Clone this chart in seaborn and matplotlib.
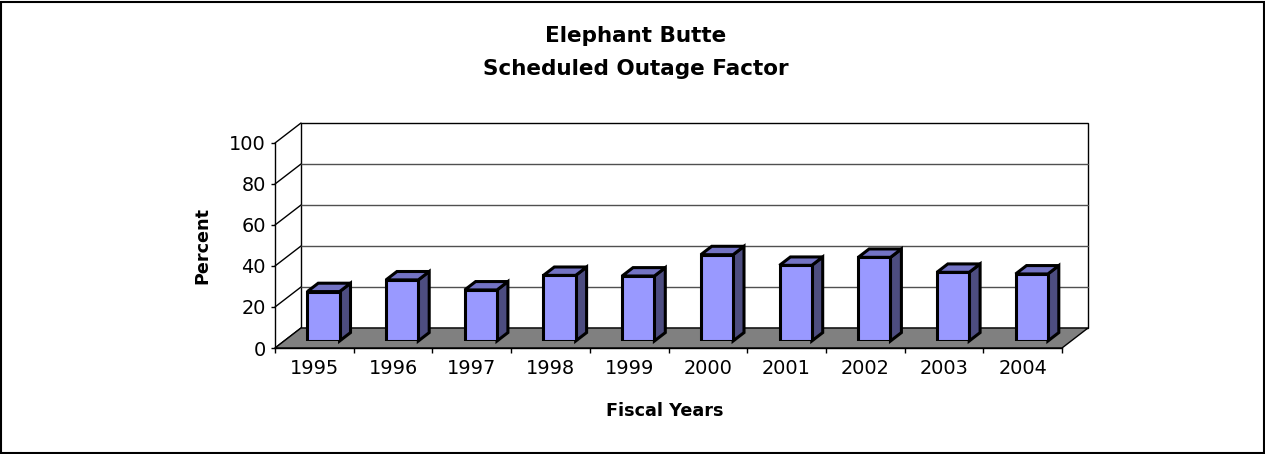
import pandas as pd
import matplotlib.pyplot as plt
from matplotlib.patches import Polygon, Rectangle
import seaborn as sns

years = ['1995', '1996', '1997', '1998', '1999', '2000', '2001', '2002', '2003', '2004']
outage = [24.1, 29.8, 24.9, 32.0, 31.7, 42.1, 36.9, 40.8, 33.5, 32.7]
y_ticks = [0, 20, 40, 60, 80, 100]

title_lines = ['Elephant Butte', 'Scheduled Outage Factor']
x_label = 'Fiscal Years'
y_label = 'Percent'

W, H = 1265, 454
sns.set_style('white')
plt.rcParams['font.family'] = ['DejaVu Sans']
plt.rcParams['text.color'] = 'black'
plt.rcParams['xtick.color'] = 'black'
plt.rcParams['ytick.color'] = 'black'

fig = plt.figure(figsize=(W / 100, H / 100), dpi=100)

# front plane of the fake 3d box (pixels)
left, right, bottom, top = 275, 1062, 348, 143
depth_px = (26, 20)
n = len(years)
ppx = (right - left) / n      # px per category
ppy = (bottom - top) / 100    # px per percent
DX = depth_px[0] / ppx
DY = depth_px[1] / ppy

ax = fig.add_axes([left / W, 1 - bottom / H, (right - left) / W, (bottom - top) / H])
ax.set_facecolor('none')
ax.set_xlim(-0.5, n - 0.5)
ax.set_ylim(0, 100)
x0, x1 = -0.5, n - 0.5

# back wall, floor, left wall lines
ax.add_patch(Rectangle((x0 + DX, DY), n, 100, fc='white', ec='black', lw=1, clip_on=False, zorder=0))
for t in y_ticks[1:-1]:
    ax.plot([x0 + DX, x1 + DX], [t + DY, t + DY], color='#505050', lw=1, clip_on=False, zorder=1)
for t in y_ticks:
    ax.plot([x0, x0 + DX], [t, t + DY], color='black', lw=1, clip_on=False, zorder=1)
ax.add_patch(Polygon([(x0, 0), (x1, 0), (x1 + DX, DY), (x0 + DX, DY)], fc='#808080', ec='black',
                     lw=1, clip_on=False, zorder=1))

ax.set_yticks(y_ticks)
ax.set_xticks(range(n), labels=years)
ax.set_xticks([i - 0.5 for i in range(n + 1)], minor=True)
ax.tick_params(axis='y', length=3, width=1, pad=3.5, labelsize=13.9, direction='out', left=True)
ax.tick_params(axis='x', which='major', length=0, pad=8, labelsize=13.9)
ax.tick_params(axis='x', which='minor', length=3.5, width=1, direction='out', bottom=True)
for s in ['top', 'right']:
    ax.spines[s].set_visible(False)
for s in ['left', 'bottom']:
    ax.spines[s].set_color('black')
    ax.spines[s].set_linewidth(1)
    ax.spines[s].set_zorder(2)

# bars sit part way into the box
f = 0.35
axb = fig.add_axes([(left + f * depth_px[0]) / W, 1 - (bottom - f * depth_px[1]) / H,
                    (right - left) / W, (bottom - top) / H])
df = pd.DataFrame({'year': years, 'outage': outage})
sns.barplot(data=df, x='year', y='outage', ax=axb, color='#9999FF', saturation=1, width=0.41,
            edgecolor='black', linewidth=2.2, zorder=3)
axb.set_xlim(-0.5, n - 0.5)
axb.set_ylim(0, 100)
axb.axis('off')

bdx, bdy = 0.42 * DX, 0.42 * DY
for p in list(axb.patches):
    p.set_joinstyle('miter')
    a = p.get_x()
    b = a + p.get_width()
    h = p.get_height()
    axb.add_patch(Polygon([(b, 0), (b + bdx, bdy), (b + bdx, h + bdy), (b, h)], fc='#4D4D80',
                          ec='black', lw=2.2, joinstyle='miter', clip_on=False, zorder=2))
    axb.add_patch(Polygon([(a, h), (a + bdx, h + bdy), (b + bdx, h + bdy), (b, h)], fc='#7373C4',
                          ec='black', lw=2.2, joinstyle='miter', clip_on=False, zorder=2))

fig.text(635.5 / W, 1 - 42 / H, title_lines[0], ha='center', va='baseline', fontsize=15.5, fontweight='bold')
fig.text(635.5 / W, 1 - 75 / H, title_lines[1], ha='center', va='baseline', fontsize=15.5, fontweight='bold')
fig.text(202.5 / W, 1 - 245 / H, y_label, rotation=90, ha='center', va='center', fontsize=12.7, fontweight='bold')
fig.text(664.5 / W, 1 - 411 / H, x_label, ha='center', va='center', fontsize=12.7, fontweight='bold')

fig.patches.append(Rectangle((1 / W, 1 / H), 1 - 2.5 / W, 1 - 2.5 / H, transform=fig.transFigure,
                             fill=False, ec='black', lw=1.5))

fig.savefig('out.png', dpi=100)
